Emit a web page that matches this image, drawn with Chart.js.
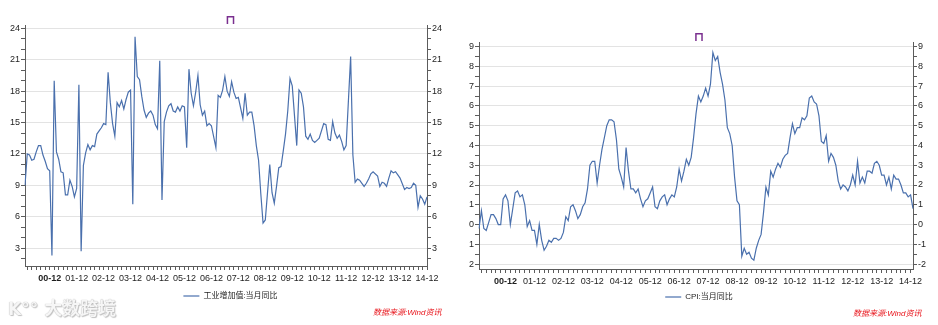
<!DOCTYPE html>
<html>
<head>
<meta charset="utf-8">
<script src="https://cdn.jsdelivr.net/npm/chart.js@4.4.1/dist/chart.umd.min.js"></script>
<style>
  html, body { margin: 0; padding: 0; background: #fff; }
  body { width: 938px; height: 325px; position: relative; overflow: hidden; }
  .panel { position: absolute; top: 0; width: 469px; height: 325px; }
  #left { left: 0; }
  #right { left: 469px; }
  .source {
    position: absolute; color: #e8141b; font-style: italic; font-size: 8px; line-height: 10px;
    font-family: "Liberation Sans", "Noto Sans CJK SC", sans-serif; white-space: nowrap;
  }
  .mark {
    position: absolute; left: 8px; top: 296px; white-space: nowrap;
    font-family: "Noto Sans CJK SC", sans-serif; font-weight: bold; font-size: 18px; line-height: 22px;
    color: #f6f6f6; text-shadow: 0 0 1px #a0a0a0, 1px 1px 1px #c4c4c4;
  }
  .mark .logo { font-family: "DejaVu Sans", sans-serif; font-size: 17px; margin-right: 6px; }
</style>
</head>
<body>
<div class="panel" id="left"><canvas id="chart-ip"></canvas></div>
<div class="panel" id="right"><canvas id="chart-cpi"></canvas></div>
<div class="mark"><span class="logo">K°°</span>大数跨境</div>
<div class="source" style="left:373px; top:308px;">数据来源:Wind资讯</div>
<div class="source" style="left:853px; top:309px;">数据来源:Wind资讯</div>
<script>
// categories: Jan 2000 .. Dec 2014, plus Jan 2015 for CPI
const years = ['00', '01', '02', '03', '04', '05', '06', '07', '08', '09', '10', '11', '12', '13', '14'];
const monthNames = ['01', '02', '03', '04', '05', '06', '07', '08', '09', '10', '11', '12'];
const ipMonths = [];
years.forEach(y => monthNames.forEach(m => ipMonths.push(y + '-' + m)));
const cpiMonths = ipMonths.concat(['15-01']);

// 工业增加值:当月同比 (%), null = month not published
const ipValues = [
    9.0, 12.0, 11.9, 11.4, 11.5, 12.2, 12.8, 12.8, 11.9, 11.3, 10.6, 10.4,
    2.3, 19.0, 12.2, 11.5, 10.3, 10.2, 8.1, 8.1, 9.5, 8.9, 7.9, 8.7,
    18.6, 2.7, 10.9, 12.1, 12.9, 12.4, 12.8, 12.7, 13.9, 14.2, 14.5, 14.9,
    14.8, 19.8, 16.9, 14.9, 13.7, 16.9, 16.5, 17.1, 16.3, 17.2, 17.9, 18.1,
    7.2, 23.2, 19.4, 19.1, 17.5, 16.2, 15.5, 15.9, 16.1, 15.7, 14.8, 14.4,
    20.9, 7.6, 15.1, 16.0, 16.6, 16.8, 16.1, 16.0, 16.5, 16.1, 16.6, 16.5,
    12.6, 20.1, 17.8, 16.6, 17.9, 19.5, 16.7, 15.7, 16.1, 14.7, 14.9, 14.7,
    null, 12.6, 17.6, 17.4, 18.1, 19.4, 18.0, 17.5, 18.9, 17.9, 17.3, 17.4,
    null, 15.4, 17.8, 15.7, 16.0, 16.0, 14.7, 12.8, 11.4, 8.2, 5.4, 5.7,
    null, 11.0, 8.3, 7.3, 8.9, 10.7, 10.8, 12.3, 13.9, 16.1, 19.2, 18.5,
    null, 12.8, 18.1, 17.8, 16.5, 13.7, 13.4, 13.9, 13.3, 13.1, 13.3, 13.5,
    null, 14.9, 14.8, 13.4, 13.3, 15.1, 14.0, 13.5, 13.8, 13.2, 12.4, 12.8,
    null, 21.3, 11.9, 9.3, 9.6, 9.5, 9.2, 8.9, 9.2, 9.6, 10.1, 10.3,
    null, 9.9, 8.9, 9.3, 9.2, 8.9, 9.7, 10.4, 10.2, 10.3, 10.0, 9.7,
    null, 8.6, 8.8, 8.7, 8.8, 9.2, 9.0, 6.9, 8.0, 7.7, 7.2, 7.9
];

// CPI:当月同比 (%)
const cpiValues = [
    -0.2, 0.7, -0.2, -0.3, 0.1, 0.5, 0.5, 0.3, 0.0, 0.0, 1.3, 1.5,
    1.2, 0.0, 0.8, 1.6, 1.7, 1.4, 1.5, 1.0, -0.1, 0.2, -0.3, -0.3,
    -1.0, 0.0, -0.8, -1.3, -1.1, -0.8, -0.9, -0.7, -0.7, -0.8, -0.7, -0.4,
    0.4, 0.2, 0.9, 1.0, 0.7, 0.3, 0.5, 0.9, 1.1, 1.8, 3.0, 3.2,
    3.2, 2.1, 3.0, 3.8, 4.4, 5.0, 5.3, 5.3, 5.2, 4.3, 2.8, 2.4,
    1.9, 3.9, 2.7, 1.8, 1.8, 1.6, 1.8, 1.3, 0.9, 1.2, 1.3, 1.6,
    1.9, 0.9, 0.8, 1.2, 1.4, 1.5, 1.0, 1.3, 1.5, 1.4, 1.9, 2.8,
    2.2, 2.7, 3.3, 3.0, 3.4, 4.4, 5.6, 6.5, 6.2, 6.5, 6.9, 6.5,
    7.1, 8.7, 8.3, 8.5, 7.7, 7.1, 6.3, 4.9, 4.6, 4.0, 2.4, 1.2,
    1.0, -1.6, -1.2, -1.5, -1.4, -1.7, -1.8, -1.2, -0.8, -0.5, 0.6, 1.9,
    1.5, 2.7, 2.4, 2.8, 3.1, 2.9, 3.3, 3.5, 3.6, 4.4, 5.1, 4.6,
    4.9, 4.9, 5.4, 5.3, 5.5, 6.4, 6.5, 6.2, 6.1, 5.5, 4.2, 4.1,
    4.5, 3.2, 3.6, 3.4, 3.0, 2.2, 1.8, 2.0, 1.9, 1.7, 2.0, 2.5,
    2.0, 3.2, 2.1, 2.4, 2.1, 2.7, 2.7, 2.6, 3.1, 3.2, 3.0, 2.5,
    2.5, 2.0, 2.4, 1.8, 2.5, 2.3, 2.3, 2.0, 1.6, 1.6, 1.4, 1.5,
    0.8
];

const FONT = '"Liberation Sans", "Noto Sans CJK SC", sans-serif';
const LINE = '#4a70ad';
const AXIS = '#5c5c5c';
const GRID = '#e3e3e3';
const TEXT = '#1e1e1e';

function isMajor(v, step) {
    const r = v / step;
    return Math.abs(r - Math.round(r)) < 1e-6;
}

// left / right value axis, same ticks on both sides
function valueAxis(pos, o) {
    return {
        type: 'linear',
        position: pos,
        min: o.min,
        max: o.max,
        border: { color: AXIS },
        grid: {
            drawOnChartArea: pos === 'left',
            color: c => (c.tick && isMajor(c.tick.value, o.major)) ? GRID : 'transparent',
            tickColor: AXIS,
            tickLength: 4
        },
        ticks: {
            stepSize: o.minor,
            includeBounds: false,
            autoSkip: false,
            padding: 1,
            color: TEXT,
            font: { family: FONT, size: 9 },
            callback: v => isMajor(v, o.major) ? String(Math.round(v)) : ''
        },
        afterFit: s => { s.width = pos === 'left' ? o.leftW : o.rightW; }
    };
}

function createLineChart(id, o) {
    const ctx = document.getElementById(id).getContext('2d');
    return new Chart(ctx, {
        type: 'line',
        data: {
            labels: o.labels,
            datasets: [{
                label: o.name,
                data: o.values,
                borderColor: LINE,
                backgroundColor: LINE,
                borderWidth: 1.2,
                pointRadius: 0,
                tension: 0,
                spanGaps: true
            }]
        },
        options: {
            responsive: true,
            maintainAspectRatio: false,
            animation: false,
            layout: { padding: { top: 0, left: 0, right: o.padRight, bottom: o.padBottom } },
            plugins: {
                title: {
                    display: true,
                    text: '⊓',
                    color: '#7a2f8f',
                    font: { family: 'DejaVu Sans', size: 13, lineHeight: 0.8 },
                    padding: { top: o.titleTop, bottom: 0 }
                },
                legend: {
                    position: 'bottom',
                    labels: {
                        usePointStyle: true,
                        pointStyle: 'line',
                        pointStyleWidth: 16,
                        padding: 4,
                        color: TEXT,
                        font: { family: FONT, size: 8 }
                    }
                },
                tooltip: { enabled: false }
            },
            scales: {
                x: {
                    type: 'category',
                    border: { color: AXIS },
                    grid: {
                        drawOnChartArea: false,
                        tickLength: 4,
                        tickColor: c => c.index % 2 ? AXIS : 'transparent'
                    },
                    ticks: {
                        autoSkip: false,
                        maxRotation: 0,
                        padding: o.xPad,
                        color: TEXT,
                        font: c => ({ family: FONT, size: 9, weight: c.index === 11 ? 'bold' : 'normal' }),
                        callback: function(v) {
                            const l = this.getLabelForValue(v);
                            return l.endsWith('-12') ? l : '';
                        }
                    },
                    afterFit: s => { s.height = o.xHeight; }
                },
                y: valueAxis('left', o),
                y2: valueAxis('right', o)
            }
        }
    });
}

createLineChart('chart-ip', {
    labels: ipMonths,
    values: ipValues,
    name: '工业增加值:当月同比',
    min: 1.3, max: 24.28, minor: 1, major: 3,
    leftW: 25, rightW: 34, padRight: 8, padBottom: 15,
    titleTop: 15, xHeight: 22, xPad: 3
});

createLineChart('chart-cpi', {
    labels: cpiMonths,
    values: cpiValues,
    name: 'CPI:当月同比',
    min: -2.25, max: 9.19, minor: 0.5, major: 1,
    leftW: 10, rightW: 16, padRight: 9, padBottom: 14,
    titleTop: 32.5, xHeight: 20, xPad: 3
});
</script>
</body>
</html>
